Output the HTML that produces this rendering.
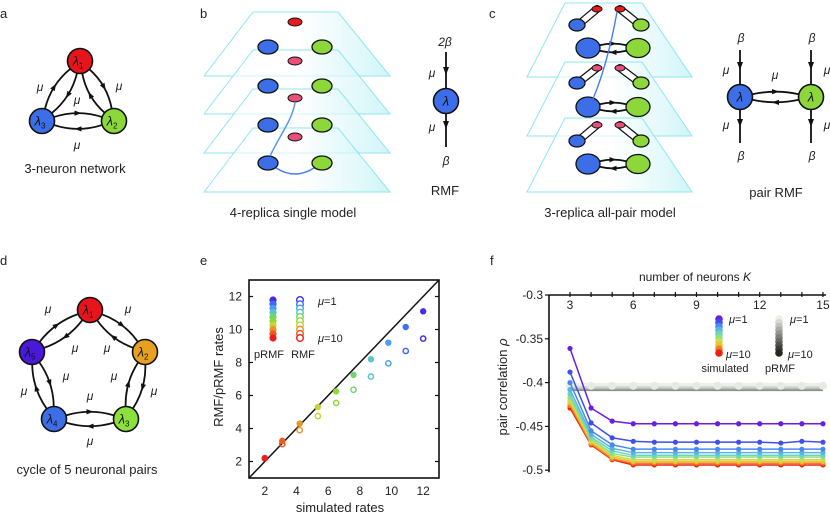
<!DOCTYPE html>
<html><head><meta charset="utf-8">
<style>
html,body{margin:0;padding:0;background:#fff;}
svg{display:block;font-family:"Liberation Sans",Arial,sans-serif;}
.lbl{font-size:13px;fill:#222;}
.pl{font-size:13px;fill:#222;}
</style></head>
<body>
<svg id="fig" width="830" height="517" viewBox="0 0 830 517" xmlns="http://www.w3.org/2000/svg">
<defs>
<linearGradient id="pg" x1="0" x2="1" y1="0" y2="0">
<stop offset="0" stop-color="#ffffff" stop-opacity="0.6"/>
<stop offset="0.5" stop-color="#ffffff" stop-opacity="0.6"/>
<stop offset="1" stop-color="#c4f2f6" stop-opacity="0.8"/>
</linearGradient>
</defs>
<text class="pl" x="0" y="18">a</text>
<text class="pl" x="200" y="18">b</text>
<text class="pl" x="489" y="18">c</text>
<text class="pl" x="0" y="265">d</text>
<text class="pl" x="200" y="265">e</text>
<text class="pl" x="490" y="265">f</text>

<g id="panelA"></g>
<text class="lbl" x="75" y="173" text-anchor="middle">3-neuron network</text>

<g id="panelB"></g>
<text class="lbl" x="293" y="217" text-anchor="middle">4-replica single model</text>

<g id="panelRMF"></g>
<text class="lbl" x="445" y="195" text-anchor="middle">RMF</text>

<g id="panelC"></g>
<text class="lbl" x="610" y="217" text-anchor="middle">3-replica all-pair model</text>

<g id="panelPR"></g>
<text class="lbl" x="776" y="197" text-anchor="middle">pair RMF</text>

<g id="panelD"></g>
<text class="lbl" x="87" y="474" text-anchor="middle">cycle of 5 neuronal pairs</text>

<g id="chartE"></g>
<g id="chartF"></g>
</svg>
<script>
// ---------- chart e data ----------
const eSimRates = [2.0, 3.1, 4.2, 5.35, 6.5, 7.6, 8.7, 9.8, 10.9, 12.0];
const ePRMFRates = [2.2, 3.25, 4.3, 5.3, 6.25, 7.25, 8.2, 9.2, 10.15, 11.1];
const eRMFRates = [2.2, 3.05, 3.9, 4.75, 5.55, 6.35, 7.15, 7.95, 8.7, 9.45];
const eColors = ['#ee1c1c','#f05a20','#e8962a','#c8d232','#8ed83c','#74d474','#5ac4cc','#4e9ef0','#3c6cf8','#4a2ae6'];
const eXTicks = [2,4,6,8,10,12];
const eYTicks = [2,4,6,8,10,12];

// ---------- chart f data ----------
const fK = [3,4,5,6,7,8,9,10,11,12,13,14,15];
const fXTicks = [3,6,9,12,15];
const fYTicks = [-0.3,-0.35,-0.4,-0.45,-0.5];
const fSim1  = [-0.361,-0.429,-0.444,-0.447,-0.447,-0.447,-0.447,-0.447,-0.447,-0.447,-0.447,-0.447,-0.447];
const fSim2  = [-0.388,-0.446,-0.463,-0.467,-0.468,-0.468,-0.468,-0.468,-0.468,-0.468,-0.469,-0.467,-0.468];
const fSim3  = [-0.400,-0.455,-0.471,-0.476,-0.476,-0.476,-0.476,-0.476,-0.476,-0.476,-0.476,-0.476,-0.476];
const fSim4  = [-0.408,-0.459,-0.475,-0.480,-0.480,-0.480,-0.480,-0.480,-0.480,-0.480,-0.480,-0.480,-0.480];
const fSim5  = [-0.413,-0.462,-0.478,-0.483,-0.483,-0.483,-0.483,-0.483,-0.483,-0.483,-0.483,-0.483,-0.483];
const fSim6  = [-0.417,-0.464,-0.481,-0.485,-0.485,-0.485,-0.485,-0.485,-0.485,-0.485,-0.485,-0.485,-0.485];
const fSim7  = [-0.420,-0.466,-0.483,-0.488,-0.488,-0.488,-0.488,-0.488,-0.488,-0.488,-0.488,-0.488,-0.488];
const fSim8  = [-0.423,-0.468,-0.485,-0.490,-0.490,-0.490,-0.490,-0.490,-0.490,-0.490,-0.490,-0.490,-0.490];
const fSim9  = [-0.426,-0.470,-0.487,-0.492,-0.492,-0.492,-0.492,-0.492,-0.492,-0.492,-0.492,-0.492,-0.492];
const fSim10 = [-0.429,-0.471,-0.488,-0.494,-0.494,-0.494,-0.494,-0.494,-0.494,-0.494,-0.494,-0.494,-0.494];
const fSimColors = ['#6a1fe0','#3f4fee','#4a8af0','#5ab4e0','#6ed2c8','#8ee080','#c8e050','#f0c030','#f08020','#f02010'];
const fPRMF1  = [-0.402,-0.402,-0.402,-0.402,-0.402,-0.402,-0.402,-0.402,-0.402,-0.402,-0.402,-0.402,-0.402];
const fPRMF4  = [-0.404,-0.404,-0.404,-0.404,-0.404,-0.404,-0.404,-0.404,-0.404,-0.404,-0.404,-0.404,-0.404];
const fPRMF7  = [-0.406,-0.406,-0.406,-0.406,-0.406,-0.406,-0.406,-0.406,-0.406,-0.406,-0.406,-0.406,-0.406];
const fPRMF10 = [-0.408,-0.408,-0.408,-0.408,-0.408,-0.408,-0.408,-0.408,-0.408,-0.408,-0.408,-0.408,-0.408];
const fPRMFColors = ['#eef0ea','#d8ddd6','#b8bfb8','#8a928c'];

const NS='http://www.w3.org/2000/svg';
function mk(parent, tag, attrs, text){
  const e=document.createElementNS(NS,tag);
  for(const k in attrs) e.setAttribute(k,attrs[k]);
  if(text!==undefined) e.textContent=text;
  parent.appendChild(e); return e;
}
function head(g,x,y,dx,dy,s){
  const L=Math.hypot(dx,dy); dx/=L; dy/=L; s=s||4;
  const px=-dy, py=dx;
  const p=[[x+dx*s,y+dy*s],[x-dx*s+px*s*0.75,y-dy*s+py*s*0.75],[x-dx*s-px*s*0.75,y-dy*s-py*s*0.75]];
  const h=mk(g,'polygon',{points:p.map(q=>q.join(',')).join(' '),fill:'#111'});
  
  
}
function arc(g,a,b,r,bend,color,w){
  const dx=b[0]-a[0], dy=b[1]-a[1], L=Math.hypot(dx,dy);
  const nx=-dy/L, ny=dx/L;
  const c=[(a[0]+b[0])/2+nx*bend,(a[1]+b[1])/2+ny*bend];
  const u1=[c[0]-a[0],c[1]-a[1]], l1=Math.hypot(...u1);
  const u2=[c[0]-b[0],c[1]-b[1]], l2=Math.hypot(...u2);
  const s=[a[0]+u1[0]/l1*r,a[1]+u1[1]/l1*r], e=[b[0]+u2[0]/l2*r,b[1]+u2[1]/l2*r];
  const p=mk(g,'path',{d:`M${s[0]},${s[1]} Q${c[0]},${c[1]} ${e[0]},${e[1]}`,fill:'none',stroke:color||'#111','stroke-width':w||1.8});
  
  
  const m=[0.25*s[0]+0.5*c[0]+0.25*e[0],0.25*s[1]+0.5*c[1]+0.25*e[1]];
  head(g,m[0],m[1],e[0]-s[0],e[1]-s[1],3.5);
}
function node(g,x,y,r,fill,label,sub){
  const c=mk(g,'circle',{cx:x,cy:y,r:r,fill:fill,stroke:'#111','stroke-width':1.6});
  
  
  const t=mk(g,'text',{x:x-(sub?2:0),y:y+4.5,'text-anchor':'middle','font-size':13,'font-style':'italic',fill:'#111'},label);
  
  
  if(sub){mk(t,'tspan',{'font-size':8,'font-style':'normal',dy:3},sub);}
}
function mu(g,x,y,txt){
  const t=mk(g,'text',{x:x,y:y,'text-anchor':'middle','font-size':12,'font-style':'italic',fill:'#222'},txt||'μ');
  
  
}
function ell(g,x,y,rx,ry,fill,sw){
  const e=mk(g,'ellipse',{cx:x,cy:y,rx:rx,ry:ry,fill:fill,stroke:'#111','stroke-width':sw||1.3});
  
  
}
function plane(g,yt,yb,xt1,xt2,xb1,xb2){
  const p=mk(g,'polygon',{points:`${xt1},${yt} ${xt2},${yt} ${xb2},${yb} ${xb1},${yb}`,fill:'url(#pg)',stroke:'#8ee6f0','stroke-width':1});
  
  
}

// ---------- panel a ----------
(function(){
  const g=document.getElementById('panelA');
  const A=[80,61],B=[114,121],C=[42,121];
  arc(g,C,A,12,-12); arc(g,A,C,12,-12);
  arc(g,A,B,12,-12); arc(g,B,A,12,-12);
  arc(g,C,B,12,-12); arc(g,B,C,12,-12);
  node(g,A[0],A[1],12.5,'#e8141c','λ','1');
  node(g,B[0],B[1],12.5,'#8cd83a','λ','2');
  node(g,C[0],C[1],12.5,'#3c6ee8','λ','3');
  mu(g,40,91); mu(g,119,90); mu(g,77,104); mu(g,77,149);
})();

// ---------- panel b ----------
(function(){
  const g=document.getElementById('panelB');
  const ys=[12,50,89,128];
  ys.forEach(y=>plane(g,y,y+64,253,338,204,390));
  ell(g,295,22,7,4,'#e81c1c',1);
  [47,86,125,163].forEach(y=>{ell(g,268,y,10,7,'#3c6ee8');ell(g,322,y,10,7,'#8cd83a');});
  [61,98,137].forEach(y=>ell(g,295,y,7,4,'#e8507a',1));
  const p=mk(g,'path',{d:'M270,156 C280,135 292,120 295,103',fill:'none',stroke:'#5a96f0','stroke-width':1.5});
  
  
  const q=mk(g,'path',{d:'M276,168 Q295,180 314,168',fill:'none',stroke:'#4a7cf0','stroke-width':1.5});
  
  
})();

// ---------- RMF ----------
(function(){
  const g=document.getElementById('panelRMF');
  mk(g,'line',{x1:446,y1:52,x2:446,y2:89,stroke:'#111','stroke-width':1.8});
  mk(g,'line',{x1:446,y1:113,x2:446,y2:147,stroke:'#111','stroke-width':1.8});
  head(g,446,71,0,1,4); head(g,446,125,0,1,4);
  node(g,446,101,12.5,'#3c6ee8','λ');
  mu(g,445,46,'2β'); mu(g,432,77); mu(g,432,131); mu(g,446,165,'β');
})();

// ---------- panel c ----------
(function(){
  const g=document.getElementById('panelC');
  [3,62,118].forEach(y=>plane(g,y,y+74,565,642,527,692));
  const layers=[[9,25,48,'#e81c1c'],[68,83,107,'#e8507a'],[125,141,164,'#e8507a']];
  layers.forEach(([ys,yn,yb,col])=>{
    mk(g,'line',{x1:597,y1:ys,x2:578,y2:yn,stroke:'#111','stroke-width':8,'stroke-linecap':'round'});
    mk(g,'line',{x1:597,y1:ys,x2:578,y2:yn,stroke:'#fff','stroke-width':5.5,'stroke-linecap':'round'});
    mk(g,'line',{x1:620,y1:ys,x2:640,y2:yn,stroke:'#111','stroke-width':8,'stroke-linecap':'round'});
    mk(g,'line',{x1:620,y1:ys,x2:640,y2:yn,stroke:'#fff','stroke-width':5.5,'stroke-linecap':'round'});
    ell(g,597,ys,5,3,col,1); ell(g,620,ys,5,3,col,1);
    ell(g,577,yn,8,6,'#3c6ee8'); ell(g,641,yn,8,6,'#8cd83a');
    arc(g,[588,yb],[638,yb],12,-6); arc(g,[638,yb],[588,yb],12,-6);
    ell(g,588,yb,12,10,'#3c6ee8'); ell(g,638,yb,12,9.5,'#8cd83a');
  });
  const p=mk(g,'path',{d:'M593,99 C605,70 612,40 617,12',fill:'none',stroke:'#4a7cf0','stroke-width':1.4});
  
  
})();

// ---------- pair RMF ----------
(function(){
  const g=document.getElementById('panelPR');
  [740,811].forEach(x=>{
    mk(g,'line',{x1:x,y1:50,x2:x,y2:85,stroke:'#111','stroke-width':1.8});
    mk(g,'line',{x1:x,y1:109,x2:x,y2:143,stroke:'#111','stroke-width':1.8});
    head(g,x,66,0,1,4); head(g,x,123,0,1,4);
    mu(g,x+1,42,'β'); mu(g,x+1,160,'β');
  });
  arc(g,[740,97],[811,97],12,-8); arc(g,[811,97],[740,97],12,-8);
  node(g,740,97,12.5,'#3c6ee8','λ'); node(g,811,97,12.5,'#8cd83a','λ');
  mu(g,726,74); mu(g,726,129); mu(g,827,74); mu(g,827,129); mu(g,775,79);
})();

// ---------- panel d ----------
(function(){
  const g=document.getElementById('panelD');
  const P={1:[90,310],2:[145,352],3:[126,419],4:[54,419],5:[32,352]};
  [[1,2],[2,3],[3,4],[4,5],[5,1]].forEach(([a,b])=>{arc(g,P[a],P[b],12,-11);arc(g,P[b],P[a],12,-11);});
  node(g,...P[1],12.5,'#e8141c','λ','1');
  node(g,...P[2],12.5,'#e8a020','λ','2');
  node(g,...P[3],12.5,'#8ce03c','λ','3');
  node(g,...P[4],12.5,'#3c6ee8','λ','4');
  node(g,...P[5],12.5,'#4a18d8','λ','5');
  mu(g,48,313); mu(g,128,313); mu(g,75,352); mu(g,107,352);
  mu(g,24,395); mu(g,66,380); mu(g,114,380); mu(g,154,395);
  mu(g,90,400); mu(g,90,445);
})();

// ---------- chart e ----------
(function(){
  const g=document.getElementById('chartE');
  const X0=249,X1=439,Y0=478,Y1=280;
  const sx=v=>X0+(v-1)*(X1-X0)/12, sy=v=>Y0-(v-1)*(Y0-Y1)/12;
  const fr=mk(g,'rect',{x:X0,y:Y1,width:X1-X0,height:Y0-Y1,fill:'none',stroke:'#111','stroke-width':1.6});
  
  
  const d=mk(g,'line',{x1:sx(1),y1:sy(1),x2:sx(13),y2:sy(13),stroke:'#111','stroke-width':1.5});
  
  
  eXTicks.forEach(v=>{
    const t=mk(g,'text',{x:sx(v),y:495,'text-anchor':'middle','font-size':12,fill:'#222'},String(v));
    
    
  });
  eYTicks.forEach(v=>{
    mk(g,'line',{x1:X0,y1:sy(v),x2:X0+4,y2:sy(v),stroke:'#111','stroke-width':1.2});
    mk(g,'line',{x1:X1,y1:sy(v),x2:X1-4,y2:sy(v),stroke:'#111','stroke-width':1.2});
    const t=mk(g,'text',{x:X0-7,y:sy(v)+4,'text-anchor':'end','font-size':12,fill:'#222'},String(v));
    
    
  });
  const xl=mk(g,'text',{x:340,y:512,'text-anchor':'middle','font-size':13,fill:'#222'},'simulated rates');
  
  
  const yl=mk(g,'text',{x:0,y:0,'text-anchor':'middle','font-size':13,fill:'#222',transform:'translate(223,377) rotate(-90)'},'RMF/pRMF rates');
  
  
  eSimRates.forEach((x,i)=>{
    const a=mk(g,'circle',{cx:sx(x),cy:sy(eRMFRates[i]),r:2.6,fill:'none',stroke:eColors[i],'stroke-width':1.5});
    
    
    const b=mk(g,'circle',{cx:sx(x),cy:sy(ePRMFRates[i]),r:3.2,fill:eColors[i]});
    
    
  });
  for(let i=0;i<10;i++){
    const y=300+i*(38/9), c=eColors[9-i];
    mk(g,'circle',{cx:273,cy:y,r:3.6,fill:c});
    mk(g,'circle',{cx:300,cy:y,r:3.3,fill:'#fff',stroke:c,'stroke-width':1.4});
  }
  const l1=mk(g,'text',{x:318,y:305,'font-size':11,fill:'#222'});
  mk(l1,'tspan',{'font-style':'italic'},'μ'); mk(l1,'tspan',{},'=1');
   
  const l2=mk(g,'text',{x:318,y:342,'font-size':11,fill:'#222'});
  mk(l2,'tspan',{'font-style':'italic'},'μ'); mk(l2,'tspan',{},'=10');
   
  const l3=mk(g,'text',{x:269,y:358,'text-anchor':'middle','font-size':11,fill:'#222'},'pRMF');
   
  const l4=mk(g,'text',{x:303,y:358,'text-anchor':'middle','font-size':11,fill:'#222'},'RMF');
   
})();

// ---------- chart f ----------
(function(){
  const g=document.getElementById('chartF');
  const XL=549, YT=295;
  const fx=k=>570+(k-3)*21.08, fy=r=>YT+(-0.3-r)*876;
  mk(g,'line',{x1:XL,y1:YT,x2:826,y2:YT,stroke:'#111','stroke-width':1.6});
  mk(g,'line',{x1:XL,y1:YT,x2:XL,y2:fy(-0.5)+2,stroke:'#111','stroke-width':1.6});
  for(let k=3;k<=15;k++) mk(g,'line',{x1:fx(k),y1:YT-3,x2:fx(k),y2:YT+2,stroke:'#111','stroke-width':1.2});
  fXTicks.forEach(k=>{
    const t=mk(g,'text',{x:fx(k),y:309,'text-anchor':'middle','font-size':12,fill:'#222'},String(k));
    
    
  });
  fYTicks.forEach(v=>{
    mk(g,'line',{x1:XL-4,y1:fy(v),x2:XL,y2:fy(v),stroke:'#111','stroke-width':1.2});
    const t=mk(g,'text',{x:XL-6,y:fy(v)+4,'text-anchor':'end','font-size':12,fill:'#222'},String(v));
    
    
  });
  const xt=mk(g,'text',{x:695,y:281,'text-anchor':'middle','font-size':12,fill:'#222'});
  mk(xt,'tspan',{},'number of neurons '); mk(xt,'tspan',{'font-style':'italic'},'K');
   
  const yt=mk(g,'text',{x:0,y:0,'text-anchor':'middle','font-size':13,fill:'#222',transform:'translate(507,387) rotate(-90)'});
  mk(yt,'tspan',{},'pair correlation '); mk(yt,'tspan',{'font-style':'italic'},'ρ');
   

  const prmf=[fPRMF1,fPRMF4,fPRMF7,fPRMF10];
  prmf.slice().reverse().forEach((s,j)=>{
    const c=fPRMFColors[3-j];
    const l=mk(g,'polyline',{points:s.map((v,i)=>fx(fK[i])+','+fy(v)).join(' '),fill:'none',stroke:c,'stroke-width':3});
    
    
  });
  fPRMF1.forEach((v,i)=>{
    const c=mk(g,'circle',{cx:fx(fK[i]),cy:fy(v)+1.5,r:4,fill:'#e6eae2'});
    
    
  });
  const sims=[fSim10,fSim9,fSim8,fSim7,fSim6,fSim5,fSim4,fSim3,fSim2,fSim1];
  sims.forEach((s,j)=>{
    const col=fSimColors[9-j];
    const l=mk(g,'polyline',{points:s.map((v,i)=>fx(fK[i])+','+fy(v)).join(' '),fill:'none',stroke:col,'stroke-width':1.5});
    
    
    s.forEach((v,i)=>{
      const c=mk(g,'circle',{cx:fx(fK[i]),cy:fy(v),r:2.6,fill:col});
      
      
    });
  });
  for(let i=0;i<10;i++){
    mk(g,'circle',{cx:719,cy:319+i*34/9,r:3.8,fill:fSimColors[i]});
    const gv=Math.round(236-i*200/9);
    mk(g,'circle',{cx:779,cy:319+i*34/9,r:3.8,fill:`rgb(${gv},${gv+2},${gv-4})`});
  }
  function lt(x,y,v,name){
    const t=mk(g,'text',{x:x,y:y,'font-size':11,fill:'#222'});
    mk(t,'tspan',{'font-style':'italic'},'μ'); mk(t,'tspan',{},'='+v);
     
  }
  lt(729,323,'1','legend-sim-mu-1'); lt(726,358,'10','legend-sim-mu-10');
  lt(790,323,'1','legend-prmf-mu-1'); lt(788,358,'10','legend-prmf-mu-10');
  const s1=mk(g,'text',{x:725,y:372,'text-anchor':'middle','font-size':11,fill:'#222'},'simulated');
   
  const s2=mk(g,'text',{x:780,y:372,'text-anchor':'middle','font-size':11,fill:'#222'},'pRMF');
   
})();
</script>
</body></html>
